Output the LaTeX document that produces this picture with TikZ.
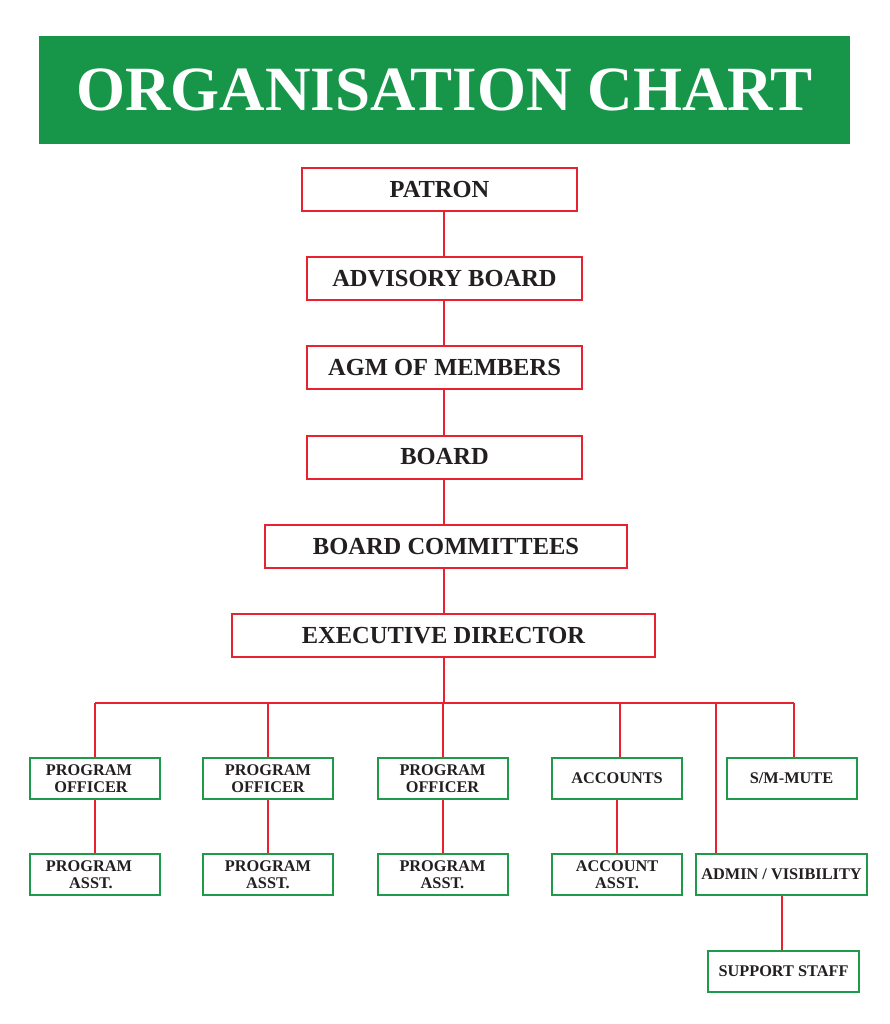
\documentclass[tikz,border=0pt]{standalone}
\usepackage{fontspec}
\setmainfont{Liberation Serif}
\definecolor{bannergreen}{HTML}{17964A}
\definecolor{boxgreen}{HTML}{1F9A4B}
\definecolor{linered}{HTML}{E8222E}
\definecolor{txt}{HTML}{231F20}
\begin{document}
\begin{tikzpicture}[x=1pt,y=-1pt,
  topbox/.style={draw=linered,line width=2pt,fill=white,minimum height=43pt,inner sep=0pt,
    text=txt,font=\fontsize{24.5}{28}\selectfont\bfseries},
  lowbox/.style={draw=boxgreen,line width=2pt,fill=white,minimum height=41pt,minimum width=130pt,inner sep=0pt,
    text=txt,align=center,font=\fontsize{16.3}{17.5}\selectfont\bfseries},
  link/.style={draw=linered,line width=2pt}]
\useasboundingbox (0,0) rectangle (889,1024);
\fill[white] (0,0) rectangle (889,1024);
% banner
\node[fill=bannergreen,minimum width=811pt,minimum height=108pt,inner sep=0pt,text=white,
  font=\fontsize{63}{70}\selectfont\bfseries] (title) at (444.5,90) {ORGANISATION CHART};
% spine coordinate
\coordinate (spine) at (444,0);
\coordinate (bus) at (0,703);
% top chain
\node[topbox,minimum width=275pt] (patron) at (439.5,189.5) {\raisebox{-3pt}{PATRON}};
\node[topbox,minimum width=275pt] (advisory) at (444.5,278.5) {ADVISORY BOARD};
\node[topbox,minimum width=275pt] (agm) at (444.5,367.5) {AGM OF MEMBERS};
\node[topbox,minimum width=275pt] (board) at (444.5,457) {BOARD};
\node[topbox,minimum width=362pt] (committees) at (446,546.5) {\raisebox{-2pt}{BOARD COMMITTEES}};
\node[topbox,minimum width=423pt] (exec) at (443.5,635.5) {EXECUTIVE DIRECTOR};
% lower row 1
\node[lowbox] (po1) at (94.5,778.5) {PROGRAM\hspace*{11pt}\\OFFICER\hspace*{7pt}};
\node[lowbox] (po2) at (268,778.5) {PROGRAM\\OFFICER};
\node[lowbox] (po3) at (442.5,778.5) {PROGRAM\\OFFICER};
\node[lowbox] (acc) at (617,778.5) {ACCOUNTS};
\node[lowbox] (smm) at (791.5,778.5) {S/M-MUTE};
% lower row 2
\node[lowbox] (pa1) at (94.5,874.5) {PROGRAM\hspace*{11pt}\\ASST.\hspace*{7pt}};
\node[lowbox] (pa2) at (268,874.5) {PROGRAM\\ASST.};
\node[lowbox] (pa3) at (442.5,874.5) {PROGRAM\\ASST.};
\node[lowbox] (aa) at (617,874.5) {ACCOUNT\\ASST.};
\node[lowbox,minimum width=171pt] (admin) at (781.5,874.5) {ADMIN / VISIBILITY};
\node[lowbox,minimum width=151pt] (support) at (783.5,971.5) {SUPPORT STAFF};
% drop coordinates
\coordinate (accdrop) at (620,703);
\coordinate (admdrop) at (716,703);
\coordinate (smdrop) at (794,703);
\coordinate (busL) at (94.5,703);
% connectors top
\draw[link] (patron.south -| spine) -- (advisory.north -| spine);
\draw[link] (advisory.south -| spine) -- (agm.north -| spine);
\draw[link] (agm.south -| spine) -- (board.north -| spine);
\draw[link] (board.south -| spine) -- (committees.north -| spine);
\draw[link] (committees.south -| spine) -- (exec.north -| spine);
\draw[link] (exec.south -| spine) -- (spine |- bus);
% bus
\draw[link] (busL) -- (smdrop);
% drops
\draw[link] (busL) -- (po1.north);
\draw[link] (po2.north |- bus) -- (po2.north);
\draw[link] (po3.north |- bus) -- (po3.north);
\draw[link] (accdrop) -- (accdrop |- acc.north);
\draw[link] (smdrop) -- (smdrop |- smm.north);
\draw[link] (admdrop) -- (admdrop |- admin.north);
% sub links
\draw[link] (po1.south) -- (pa1.north);
\draw[link] (po2.south) -- (pa2.north);
\draw[link] (po3.south) -- (pa3.north);
\draw[link] (acc.south) -- (aa.north);
\draw[link] (admin.south) -- (admin.south |- support.north);
\end{tikzpicture}
\end{document}
